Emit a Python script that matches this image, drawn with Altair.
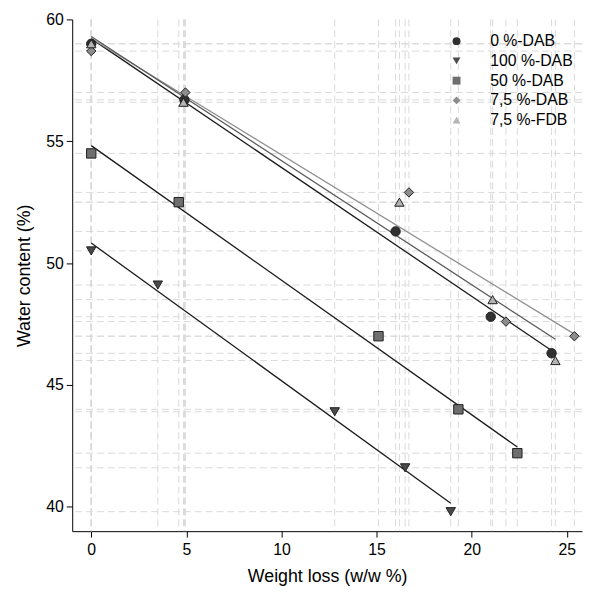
import altair as alt
import pandas as pd

# ---------------- data ----------------
series = ["0 %-DAB", "100 %-DAB", "50 %-DAB", "7,5 %-DAB", "7,5 %-FDB"]

x_0dab = [0.0, 4.9, 16.0, 21.0, 24.2]
y_0dab = [59.0, 56.7, 51.3, 47.8, 46.3]

x_100dab = [0.0, 3.5, 12.8, 16.5, 18.9]
y_100dab = [50.5, 49.1, 43.9, 41.6, 39.8]

x_50dab = [0.0, 4.6, 15.1, 19.3, 22.4]
y_50dab = [54.5, 52.5, 47.0, 44.0, 42.2]

x_75dab = [0.0, 4.95, 16.7, 21.8, 25.4]
y_75dab = [58.7, 57.0, 52.9, 47.6, 47.0]

x_75fdb = [0.0, 4.85, 16.2, 21.1, 24.4]
y_75fdb = [59.0, 56.6, 52.5, 48.5, 46.0]

x_major = [0, 5, 10, 15, 20, 25]
y_major = [40, 45, 50, 55, 60]

# styles
shapes = ["circle", "triangle-down", "square", "diamond", "triangle-up"]
fills = ["#303030", "#4a4a4a", "#6e6e6e", "#8c8c8c", "#b4b4b4"]
line_colors = ["#1a1a1a", "#1a1a1a", "#1a1a1a", "#909090", "#5a5a5a"]

xs = [x_0dab, x_100dab, x_50dab, x_75dab, x_75fdb]
ys = [y_0dab, y_100dab, y_50dab, y_75dab, y_75fdb]
rows = []
for s, xv, yv in zip(series, xs, ys):
    for a, b in zip(xv, yv):
        rows.append({"series": s, "weight": a, "water": b})
df = pd.DataFrame(rows)

FONT = "Liberation Sans"
W, H = 516, 518

xscale = alt.Scale(domain=[-1.0, 25.8], nice=False, zero=False)
yscale = alt.Scale(domain=[39.0, 60.0], nice=False, zero=False)

common = dict(grid=False, domainColor="#000", domainWidth=1,
              ticks=True, tickSize=6, tickColor="#000", tickWidth=1,
              labelFont=FONT, labelFontSize=16, labelColor="#000",
              labelFlush=False, labelOverlap=False,
              titleFont=FONT, titleFontSize=18, titleFontWeight="normal", titleColor="#000")

x_axis = alt.Axis(values=x_major, labelPadding=5, title="Weight loss (w/w %)", titlePadding=10, **common)
y_axis = alt.Axis(values=y_major, labelPadding=3, title="Water content (%)", titlePadding=12, **common)

base = alt.Chart(df)

vrules = base.mark_rule(color="#d9d9d9", strokeDash=[7, 4], strokeWidth=1).encode(
    x=alt.X("weight:Q", scale=xscale, axis=x_axis)
)
hrules = base.mark_rule(color="#d9d9d9", strokeDash=[7, 4], strokeWidth=1).encode(
    y=alt.Y("water:Q", scale=yscale, axis=y_axis)
)

lines = base.transform_regression(
    "weight", "water", groupby=["series"]
).transform_calculate(
    fit="datum.series"
).mark_line(strokeWidth=1.3).encode(
    x=alt.X("weight:Q", scale=xscale),
    y=alt.Y("water:Q", scale=yscale),
    stroke=alt.Stroke("fit:N", sort=series, scale=alt.Scale(range=line_colors), legend=None),
)

points = base.mark_point(filled=True, size=90, stroke="#1e1e1e", strokeWidth=1, opacity=1).encode(
    x=alt.X("weight:Q", scale=xscale),
    y=alt.Y("water:Q", scale=yscale),
    shape=alt.Shape("series:N", scale=alt.Scale(domain=series, range=shapes),
                    legend=alt.Legend(title=None, orient="none", legendX=381, legendY=14)),
    fill=alt.Fill("series:N", scale=alt.Scale(domain=series, range=fills),
                  legend=alt.Legend(title=None, orient="none", legendX=381, legendY=14)),
)

chart = alt.layer(vrules, hrules, lines, points).properties(
    width=W, height=H,
    padding={"left": 8, "top": 0, "right": 0, "bottom": 0},
).configure_view(stroke=None).configure_legend(
    padding=0, labelFont=FONT, labelFontSize=16, labelColor="#000", labelOffset=26,
    symbolSize=64, symbolStrokeColor="#1e1e1e", symbolStrokeWidth=1, symbolOpacity=1,
    rowPadding=4,
)

chart.save("out.html", embed_options={"renderer": "svg", "actions": False})
